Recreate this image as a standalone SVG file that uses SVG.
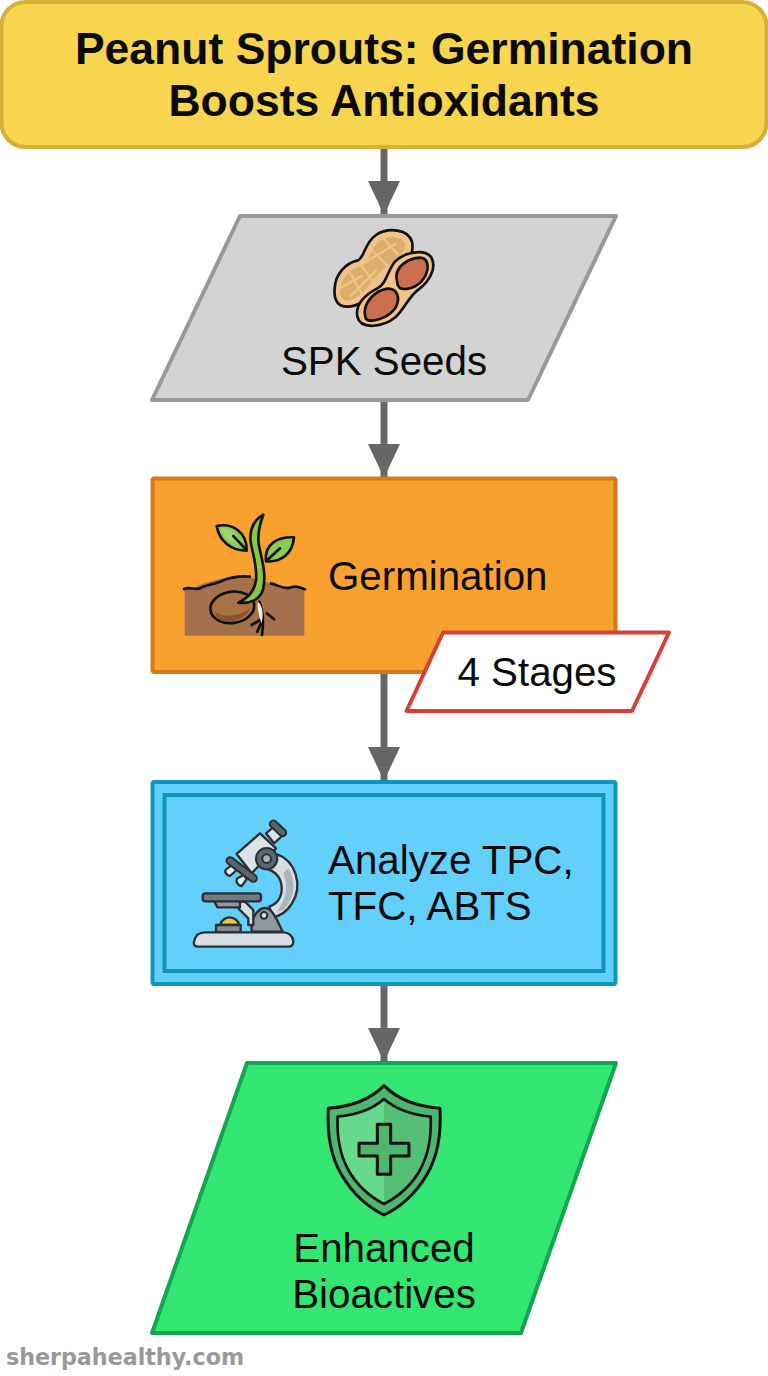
<svg xmlns="http://www.w3.org/2000/svg" width="768" height="1376" viewBox="0 0 768 1376">
<style>
text{font-family:"Liberation Sans",Arial,sans-serif;fill:#0a0a0a}
.t{font-size:40.300px}
.m{text-anchor:middle}
.k{stroke:#111;stroke-width:8;stroke-linejoin:round;stroke-linecap:round}
.n{fill:none}
.g{stroke:#2b2f33;stroke-width:7;stroke-linejoin:round;stroke-linecap:round}
</style>
<defs>
<marker id="ah" markerUnits="userSpaceOnUse" markerWidth="34" markerHeight="32" refX="34" refY="16" orient="auto"><path d="M0 0L34 16L0 32Z" fill="#666"/></marker>
</defs>
<rect width="768" height="1376" fill="#fff"/>
<g id="connectors" fill="none" stroke="#666" stroke-width="7">
<path d="M384 147V215" marker-end="url(#ah)"/>
<path d="M384 400V478" marker-end="url(#ah)"/>
<path d="M384 672V781" marker-end="url(#ah)"/>
<path d="M384 984V1062" marker-end="url(#ah)"/>
</g>
<g id="title">
<rect x="1.500" y="2" width="765" height="145" rx="24" fill="#f8d54f" stroke="#d6b036" stroke-width="4"/>
<text class="m" x="384" y="64" font-size="44.500" font-weight="700">Peanut Sprouts: Germination</text>
<text class="m" x="384" y="116" font-size="44.500" font-weight="700">Boosts Antioxidants</text>
</g>
<g id="seeds">
<path d="M240 216H616L528 400H152Z" fill="#d3d3d3" stroke="#999" stroke-width="4" stroke-linejoin="round"/>
<g transform="translate(320 220) scale(.3333)">
<path class="k" d="M44 205C46 160 80 128 112 122C136 112 130 72 168 45C205 20 266 28 276 65C286 110 250 140 225 165C190 190 180 205 155 225C125 255 85 268 60 255C46 245 42 225 44 205Z" fill="#efc48a" stroke-width="9"/>
<path d="M60 208C65 170 95 145 125 138C150 125 150 85 180 62C208 44 245 48 255 72C260 95 225 122 200 140C170 160 160 180 135 210C115 232 88 248 72 240C62 235 58 222 60 208Z" fill="#dcae6b"/>
<path d="M85 150L125 220M115 125L160 185M150 85L205 140M190 55L235 105M60 205L130 165M90 230L170 150M130 130L230 70" stroke="#efc48a" stroke-width="7" fill="none"/>
<path class="k" d="M112 290C105 250 140 222 172 205C198 192 200 160 222 128C250 96 314 85 334 112C352 145 326 186 296 208C265 230 256 265 226 292C192 320 122 332 112 290Z" fill="#efc48a" stroke-width="9"/>
<path class="k" d="M229 170C230 140 262 115 300 113C330 115 330 155 304 185C282 208 236 218 232 190Z" fill="#cc6e50" stroke-width="7"/>
<path class="k" d="M134 278C134 245 165 212 202 206C234 205 242 236 226 264C206 294 150 312 137 295Z" fill="#cc6e50" stroke-width="7"/>
</g>
<text class="t m" x="384" y="375">SPK Seeds</text>
</g>
<g id="germination">
<rect x="152.500" y="478.500" width="463" height="193.500" rx="2" fill="#f9a12e" stroke="#d8781e" stroke-width="4"/>
<g transform="translate(170 500) scale(.3333)">
<path d="M44 265C70 270 90 250 120 245C170 230 210 225 240 232L300 250C340 265 370 255 403 265V407H44Z" fill="#a5714d"/>
<path class="k n" d="M42 267C60 258 75 272 90 265C105 255 125 255 150 245C180 232 215 228 240 230M303 250C325 255 340 268 358 264C375 255 390 262 405 268" stroke-width="7"/>
<ellipse cx="187" cy="322" rx="66" ry="47" transform="rotate(-8 187 322)" fill="#aa7244" stroke="#111" stroke-width="8"/>
<path d="M135 335C150 350 200 355 240 325C230 355 190 368 160 364C145 360 137 350 135 335Z" fill="#8a5430"/>
<path class="k n" d="M268 305C278 330 282 365 276 405M290 340L312 358M270 360L245 375M275 365L262 395" stroke-width="6"/>
<path d="M264 305C278 318 282 345 274 370C268 345 260 325 264 305Z" fill="#f5eedd"/>
<path class="k" d="M280 44C252 60 238 85 242 125C250 170 262 200 258 240C254 270 240 290 205 308C240 312 272 300 280 265C290 215 272 170 266 130C262 95 270 70 280 44Z" fill="#88c840" stroke-width="7"/>
<path class="k" d="M140 78C185 68 232 95 230 152C185 152 148 125 140 78Z" fill="#8aca58" stroke-width="7"/>
<path d="M150 85C180 85 205 100 215 135C185 130 160 115 150 85Z" fill="#a0d668"/>
<path class="k n" d="M190 108L228 148" stroke-width="6"/>
<path class="k" d="M372 112C325 110 282 130 288 184C335 188 368 160 372 112Z" fill="#8aca58" stroke-width="7"/>
<path class="k n" d="M290 182L330 145" stroke-width="6"/>
</g>
<text class="t" x="328" y="590">Germination</text>
</g>
<g id="stages">
<path d="M443 632.500H669L632 711H406.500Z" fill="#fff" stroke="#d6403a" stroke-width="4" stroke-linejoin="round"/>
<text class="t m" x="537" y="686">4 Stages</text>
</g>
<g id="analyze">
<rect x="152.500" y="782" width="463" height="202" rx="2" fill="#62d0fb" stroke="#0f95bf" stroke-width="4"/>
<rect x="164.500" y="795" width="439" height="176" fill="none" stroke="#0f95bf" stroke-width="4"/>
<g transform="translate(180 810) scale(.3333)">
<path class="g" d="M288 132C345 150 372 225 335 282C320 305 300 318 278 322L268 290C298 280 312 250 302 215C296 195 280 182 258 176Z" fill="#d6dee3"/>
<path d="M325 175C350 215 345 265 310 300L290 305C320 270 325 225 310 190Z" fill="#a9b4bb"/>
<path class="g" d="M215 365C212 310 245 285 268 298C285 310 295 340 308 365Z" fill="#8e989f"/>
<circle cx="252" cy="316" r="10" fill="#d6dee3" stroke="#2b2f33" stroke-width="6"/>
<path class="g" d="M175 275H195L220 300V345H205V325L175 295Z" fill="#d6dee3"/>
<path class="g" d="M102 272H180V292H112Z" fill="#8e989f"/>
<rect class="g" x="68" y="250" width="175" height="24" rx="8" fill="#6f7a82"/>
<path class="g" d="M120 345C125 328 140 322 148 322C160 322 175 330 178 345Z" fill="#f3c63f"/>
<path class="g" d="M108 345H182V368H108Z" fill="#7f8a91"/>
<path class="g" d="M42 395C45 378 55 367 75 367H310C325 367 340 378 340 395C340 405 335 410 325 410H55C45 410 40 405 42 395Z" fill="#d6dee3"/>
<path class="g" d="M138 178L156 165L170 180L150 198C140 195 132 188 138 178Z" fill="#e6ecef"/>
<path class="g" d="M172 205L192 195L200 208L185 228C175 228 165 215 172 205Z" fill="#e6ecef"/>
<path class="g" d="M170 132L240 70L288 115L215 190Z" fill="#dbe3e7"/>
<path d="M150 152L220 205" stroke="#2b2f33" stroke-width="27" stroke-linecap="round"/>
<path d="M150 152L220 205" stroke="#5c666e" stroke-width="15" stroke-linecap="round"/>
<path class="g" d="M258 70L282 50L306 78L282 100Z" fill="#dbe3e7"/>
<path d="M280 42L308 68" stroke="#2b2f33" stroke-width="27" stroke-linecap="round"/>
<path d="M280 42L308 68" stroke="#5c666e" stroke-width="15" stroke-linecap="round"/>
<circle cx="260" cy="146" r="32" fill="#5c666e" stroke="#2b2f33" stroke-width="6"/>
<circle cx="260" cy="146" r="13" fill="#a5afb6" stroke="#2b2f33" stroke-width="6"/>
</g>
<text class="t" x="328" y="874">Analyze TPC,</text>
<text class="t" x="328" y="920">TFC, ABTS</text>
</g>
<g id="bioactives">
<path d="M247 1063H616L521 1333H152Z" fill="#33e672" stroke="#12a650" stroke-width="4" stroke-linejoin="round"/>
<g transform="translate(315 1075) scale(.3333)">
<path d="M207 32C165 75 105 95 40 100C35 190 50 250 80 300C110 350 155 395 207 420C260 395 305 350 335 300C365 250 380 190 375 100C310 95 250 75 207 32Z" fill="#4fb670" stroke="#111" stroke-width="9" stroke-linejoin="round"/>
<path d="M207 75V385C165 365 125 330 100 285C75 240 65 190 68 125C120 120 170 105 207 75Z" fill="#67d98a"/>
<path d="M207 75C245 105 295 120 347 125C350 190 340 240 315 285C290 330 250 365 207 385Z" fill="#55bf78"/>
<path d="M207 72C170 105 120 120 68 125C65 190 75 240 100 285C125 330 165 365 207 387C250 365 290 330 315 285C340 240 350 190 347 125C295 120 245 105 207 72Z" fill="none" stroke="#111" stroke-width="8" stroke-linejoin="round"/>
<path d="M187 148H227V205H282V243H227V298H187V243H132V205H187Z" fill="#4fb670" stroke="#111" stroke-width="9" stroke-linejoin="round"/>
</g>
<text class="t m" x="384" y="1262">Enhanced</text>
<text class="t m" x="384" y="1308">Bioactives</text>
</g>
<text id="watermark" x="6" y="1365" font-size="22.200" font-weight="700" style="font-family:'DejaVu Sans',sans-serif;fill:#999">sherpahealthy.com</text>
</svg>
